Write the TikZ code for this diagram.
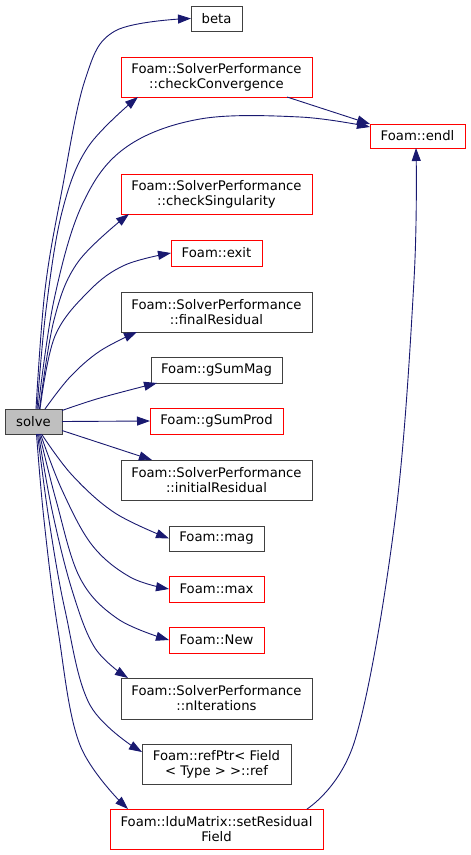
\documentclass[tikz,border=0pt]{standalone}
\usepackage{fontspec}
\setmainfont{DejaVu Sans}
\usetikzlibrary{arrows.meta}
\definecolor{edgec}{HTML}{191970}
\definecolor{boxred}{HTML}{FF0000}
\definecolor{boxgrey}{HTML}{404040}
\definecolor{solvefill}{HTML}{BFBFBF}
\begin{document}
\begin{tikzpicture}[x=1pt,y=-1pt,
  box/.style={draw, line width=0.9pt, inner sep=0pt, outer sep=0pt, align=center,
    font=\fontsize{13.2}{15}\selectfont},
  rbox/.style={box, draw=boxred},
  gbox/.style={box, draw=boxgrey},
  edge/.style={draw=edgec, line width=0.9pt, -{Triangle[length=13pt,width=9pt]}},
  crv/.style={smooth, tension=0.6}
]
\useasboundingbox (0,0) rectangle (471,855);
% nodes
\node[box, draw=boxgrey, fill=solvefill, minimum width=57pt, minimum height=25pt] (solve) at (33.5,421.5) {solve};
\node[gbox, minimum width=51pt, minimum height=25pt] (beta) at (216.5,18.5) {beta};
\node[rbox, minimum width=191pt, minimum height=40pt] (cc) at (216.5,77) {Foam::SolverPerformance\\::checkConvergence};
\node[rbox, minimum width=95pt, minimum height=24pt] (endl) at (417.5,136) {Foam::endl};
\node[rbox, minimum width=191pt, minimum height=40pt] (cs) at (216.5,194) {Foam::SolverPerformance\\::checkSingularity};
\node[rbox, minimum width=91pt, minimum height=26pt] (exit) at (216.5,253) {Foam::exit};
\node[gbox, minimum width=191pt, minimum height=40pt] (fr) at (216.5,312) {Foam::SolverPerformance\\::finalResidual};
\node[gbox, minimum width=131pt, minimum height=26pt] (gsm) at (216.5,370) {Foam::gSumMag};
\node[rbox, minimum width=133pt, minimum height=26pt] (gsp) at (216.5,421) {Foam::gSumProd};
\node[gbox, minimum width=191pt, minimum height=40pt] (ir) at (216.5,480) {Foam::SolverPerformance\\::initialResidual};
\node[gbox, minimum width=95pt, minimum height=25pt] (mag) at (216.5,538.5) {Foam::mag};
\node[rbox, minimum width=95pt, minimum height=26pt] (max) at (216.5,589) {Foam::max};
\node[rbox, minimum width=95pt, minimum height=26pt] (new) at (216.5,640) {Foam::New};
\node[gbox, minimum width=191pt, minimum height=41pt] (nit) at (216.5,698.5) {Foam::SolverPerformance\\::nIterations};
\node[gbox, minimum width=149pt, minimum height=40pt] (ref) at (216.5,764) {Foam::refPtr< Field\\< Type > >::ref};
\node[rbox, minimum width=213pt, minimum height=40pt] (srf) at (216.5,829) {Foam::lduMatrix::setResidual\\Field};
% edges from the top of solve
\draw[edge] plot[crv] coordinates {([xshift=2.5pt]solve.north) (45,290) (62,190) (85,80) (115,31) (beta.west)};
\draw[edge] plot[crv] coordinates {([xshift=3.5pt]solve.north) (46,310) (62,212) (88,147) ([xshift=17pt]cc.south west)};
\draw[edge] plot[crv] coordinates {([xshift=4.5pt]solve.north) (54,300) (82,205) (125,148) (200,119) (300,117) ([yshift=-3pt]endl.north west)};
\draw[edge] plot[crv] coordinates {([xshift=6pt]solve.north) (54,320) (78,262) ([xshift=8pt]cs.south west)};
\draw[edge] plot[crv] coordinates {([xshift=6.5pt]solve.north) (55,336) (90,290) (125,265) (exit.west)};
\draw[edge] plot[crv] coordinates {([xshift=11.5pt]solve.north) (70,377) (100,351) ([xshift=16pt]fr.south west)};
% edges from the right side of solve
\draw[edge] plot[crv] coordinates {([yshift=-1.5pt]solve.north east) (100,398) ([xshift=6pt]gsm.south west)};
\draw[edge] (solve.east) -- (gsp.west);
\draw[edge] ([yshift=3.5pt]solve.south east) -- ([xshift=31pt]ir.north west);
% edges from the bottom of solve
\draw[edge] plot[crv] coordinates {([xshift=8pt]solve.south) (72,475) (115,513) (mag.west)};
\draw[edge] plot[crv] coordinates {([xshift=7pt]solve.south) (62,490) (92,545) (130,577) (max.west)};
\draw[edge] plot[crv] coordinates {([xshift=6pt]solve.south) (56,500) (80,578) (118,619) (new.west)};
\draw[edge] plot[crv] coordinates {([xshift=5pt]solve.south) (52,510) (72,590) (95,648) ([xshift=7pt]nit.north west)};
\draw[edge] plot[crv] coordinates {([xshift=4pt]solve.south) (49,520) (65,610) (90,705) ([yshift=-8pt]ref.north west)};
\draw[edge] plot[crv] coordinates {([xshift=3pt]solve.south) (44,520) (58,630) (80,745) ([xshift=18pt]srf.north west)};
% edges into endl
\draw[edge] ([xshift=70.5pt]cc.south) -- (endl.north west);
\draw[edge] plot[crv] coordinates {([xshift=90.5pt]srf.north) (355,740) (395,520) (414,280) ([xshift=-1.5pt]endl.south)};
\end{tikzpicture}
\end{document}
